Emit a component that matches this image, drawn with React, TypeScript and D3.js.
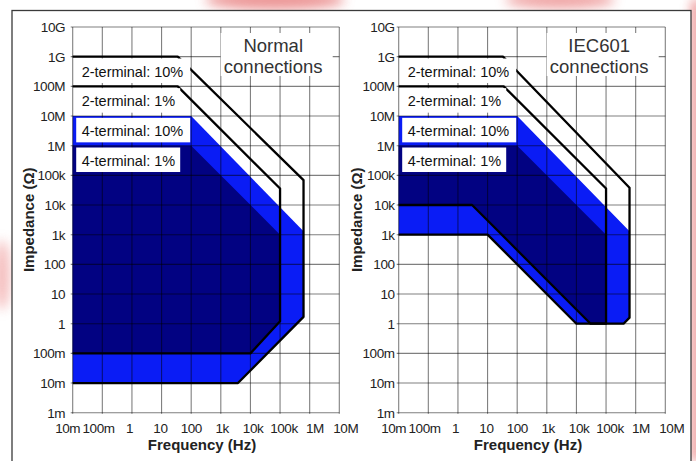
import * as d3 from "d3";

const W = 696;
const H = 461;

// axis ticks
const freqTicks = [1e-2, 1e-1, 1, 10, 100, 1e3, 1e4, 1e5, 1e6, 1e7];
const freqLabels = ["10m", "100m", "1", "10", "100", "1k", "10k", "100k", "1M", "10M"];
const impTicks = [1e-3, 1e-2, 1e-1, 1, 10, 100, 1e3, 1e4, 1e5, 1e6, 1e7, 1e8, 1e9, 1e10];
const impLabels = ["1m", "10m", "100m", "1", "10", "100", "1k", "10k", "100k", "1M", "10M", "100M", "1G", "10G"];

type Pt = [number, number]; // [frequency Hz, impedance ohm]

// Normal connections
const normal4t10: Pt[] = [[1e-2, 1e7], [100, 1e7], [6.2e5, 1.3e3], [6.2e5, 1.7], [3.8e3, 1e-2], [1e-2, 1e-2]];
const normal4t1: Pt[] = [[1e-2, 1e6], [100, 1e6], [1e5, 1e3], [1e5, 1.2], [1e4, 0.1], [1e-2, 0.1]];
const normal2t10: Pt[] = [[1e-2, 1e9], [35, 1e9], [6.2e5, 6.9e4], [6.2e5, 1.7], [3.8e3, 1e-2], [1e-2, 1e-2]];
const normal2t1: Pt[] = [[1e-2, 1e8], [35, 1e8], [1e5, 3.6e4], [1e5, 1.2], [1e4, 0.1], [1e-2, 0.1]];

// IEC601 connections
const iec4t10: Pt[] = [[1e-2, 1e7], [100, 1e7], [6.2e5, 1.3e3], [6.2e5, 1.6], [3.9e5, 1], [1e4, 1], [10, 1e3], [1e-2, 1e3]];
const iec4t1: Pt[] = [[1e-2, 1e6], [100, 1e6], [1e5, 1e3], [1e5, 1], [3e4, 1], [3, 1e4], [1e-2, 1e4]];
const iec2t10: Pt[] = [[1e-2, 1e9], [33, 1e9], [6.2e5, 3.8e4], [6.2e5, 1.6], [3.9e5, 1], [1e4, 1], [10, 1e3], [1e-2, 1e3]];
const iec2t1: Pt[] = [[1e-2, 1e8], [35, 1e8], [1e5, 3.6e4], [1e5, 1], [3e4, 1], [3, 1e4], [1e-2, 1e4]];

const legendTexts = ["2-terminal: 10%", "2-terminal: 1%", "4-terminal: 10%", "4-terminal: 1%"];
const legendLevels = [10 ** 8.5, 10 ** 7.5, 10 ** 6.5, 10 ** 5.5];

const panels = [
  { title: ["Normal", "connections"], left: 72.7, tickGap: 7.5, yTitle: 44.5, four10: normal4t10, four1: normal4t1, two10: normal2t10, two1: normal2t1 },
  { title: ["IEC601", "connections"], left: 398.7, tickGap: 4, yTitle: 42, four10: iec4t10, four1: iec4t1, two10: iec2t10, two1: iec2t1 },
];

const TOP = 27;
const BOTTOM = 412.7;
const PW = 266.6;
const FONT = "Arial, 'Liberation Sans', Helvetica, sans-serif";
const LIGHT = "#0a1cf5";
const DARK = "#020282";

function Panel({ p }: { p: (typeof panels)[number] }) {
  const x = d3.scaleLog().domain([1e-2, 1e7]).range([p.left, p.left + PW]);
  // the frequency labels are spread a little wider than the grid
  const xLab = d3.scaleLog().domain([1e-2, 1e7]).range([p.left - 5, p.left + PW + 6.5]);
  const y = d3.scaleLog().domain([1e-3, 1e10]).range([BOTTOM, TOP]);
  const line = d3.line<Pt>().x((d) => x(d[0])).y((d) => y(d[1]));
  const area = (pts: Pt[]) => line(pts) + "Z";
  const cx = p.left + PW / 2;
  const midY = (TOP + BOTTOM) / 2;

  return (
    <g>
      {/* regions */}
      <path d={area(p.four10)} fill={LIGHT} />
      <path d={area(p.four1)} fill={DARK} />

      {/* grid */}
      <g stroke="#000" strokeOpacity={0.5} strokeWidth={1.1}>
        {freqTicks.map((f, i) => (
          <line key={"v" + i} x1={x(f)} x2={x(f)} y1={TOP} y2={BOTTOM + 1} />
        ))}
        {impTicks.map((z, i) => (
          <line key={"h" + i} x1={p.left - 2} x2={p.left + PW} y1={y(z)} y2={y(z)} />
        ))}
      </g>

      {/* 2-terminal limits */}
      <path d={line(p.two1) ?? ""} fill="none" stroke="#000" strokeWidth={2.3} strokeLinejoin="round" />
      <path d={line(p.two10) ?? ""} fill="none" stroke="#000" strokeWidth={2.3} strokeLinejoin="round" />

      {/* title box */}
      <rect x={p.left + 148} y={33} width={112} height={43} fill="#fff" />
      <text x={p.left + 200.5} y={51.5} textAnchor="middle" fontSize={18.5} fill="#333" fontFamily={FONT}>
        {p.title[0]}
      </text>
      <text x={p.left + 200.5} y={73} textAnchor="middle" fontSize={18.5} fill="#333" fontFamily={FONT}>
        {p.title[1]}
      </text>

      {/* legend labels */}
      {legendTexts.map((t, i) => {
        const yc = y(legendLevels[i]);
        const w = t.endsWith("10%") ? 114 : 104;
        return (
          <g key={t}>
            <rect x={p.left + 3.5} y={yc - 13} width={w} height={24.5} fill="#fff" />
            <text x={p.left + 9} y={yc + 5} fontSize={14.5} fill="#111" fontFamily={FONT}>
              {t}
            </text>
          </g>
        );
      })}

      {/* y tick labels */}
      {impTicks.map((z, i) => (
        <text
          key={"yl" + i}
          x={p.left - p.tickGap}
          y={y(z)}
          dy="0.36em"
          textAnchor="end"
          fontSize={13.5}
          letterSpacing={-0.4}
          fill="#222"
          fontFamily={FONT}
        >
          {impLabels[i]}
        </text>
      ))}

      {/* x tick labels */}
      {freqTicks.map((f, i) => (
        <text
          key={"xl" + i}
          x={xLab(f)}
          y={433}
          textAnchor="middle"
          fontSize={13.5}
          letterSpacing={-0.4}
          fill="#222"
          fontFamily={FONT}
        >
          {freqLabels[i]}
        </text>
      ))}

      <text x={cx - 4} y={450} textAnchor="middle" fontSize={15} fontWeight="bold" fill="#222" fontFamily={FONT}>
        Frequency (Hz)
      </text>
      <text
        transform={`translate(${p.left - p.yTitle},${midY}) rotate(-90)`}
        dy="0.36em"
        textAnchor="middle"
        fontSize={15}
        fontWeight="bold"
        fill="#222"
        fontFamily={FONT}
      >
        Impedance (Ω)
      </text>
    </g>
  );
}

export default function App() {
  return (
    <svg
      width={W}
      height={H}
      viewBox={`0 0 ${W} ${H}`}
      style={{ position: "absolute", left: 0, top: 0, display: "block", background: "#fff" }}
    >
      <defs>
        <filter id="soft" x="-50%" y="-50%" width="200%" height="200%">
          <feGaussianBlur stdDeviation="6" />
        </filter>
      </defs>
      {/* faint background watermark */}
      <g filter="url(#soft)" opacity={0.7}>
        <ellipse cx={275} cy={0} rx={70} ry={10} fill="#e46a6a" />
        <ellipse cx={560} cy={0} rx={55} ry={9} fill="#e98080" />
        <ellipse cx={2} cy={275} rx={8} ry={35} fill="#f0a0a0" />
        <rect x={692} y={0} width={10} height={H} fill="#e25555" />
      </g>
      <rect x={12} y={10.5} width={679} height={470} fill="#fff" stroke="#3a3a3a" strokeWidth={1.3} />
      {panels.map((p) => (
        <Panel key={p.title[0]} p={p} />
      ))}
    </svg>
  );
}
